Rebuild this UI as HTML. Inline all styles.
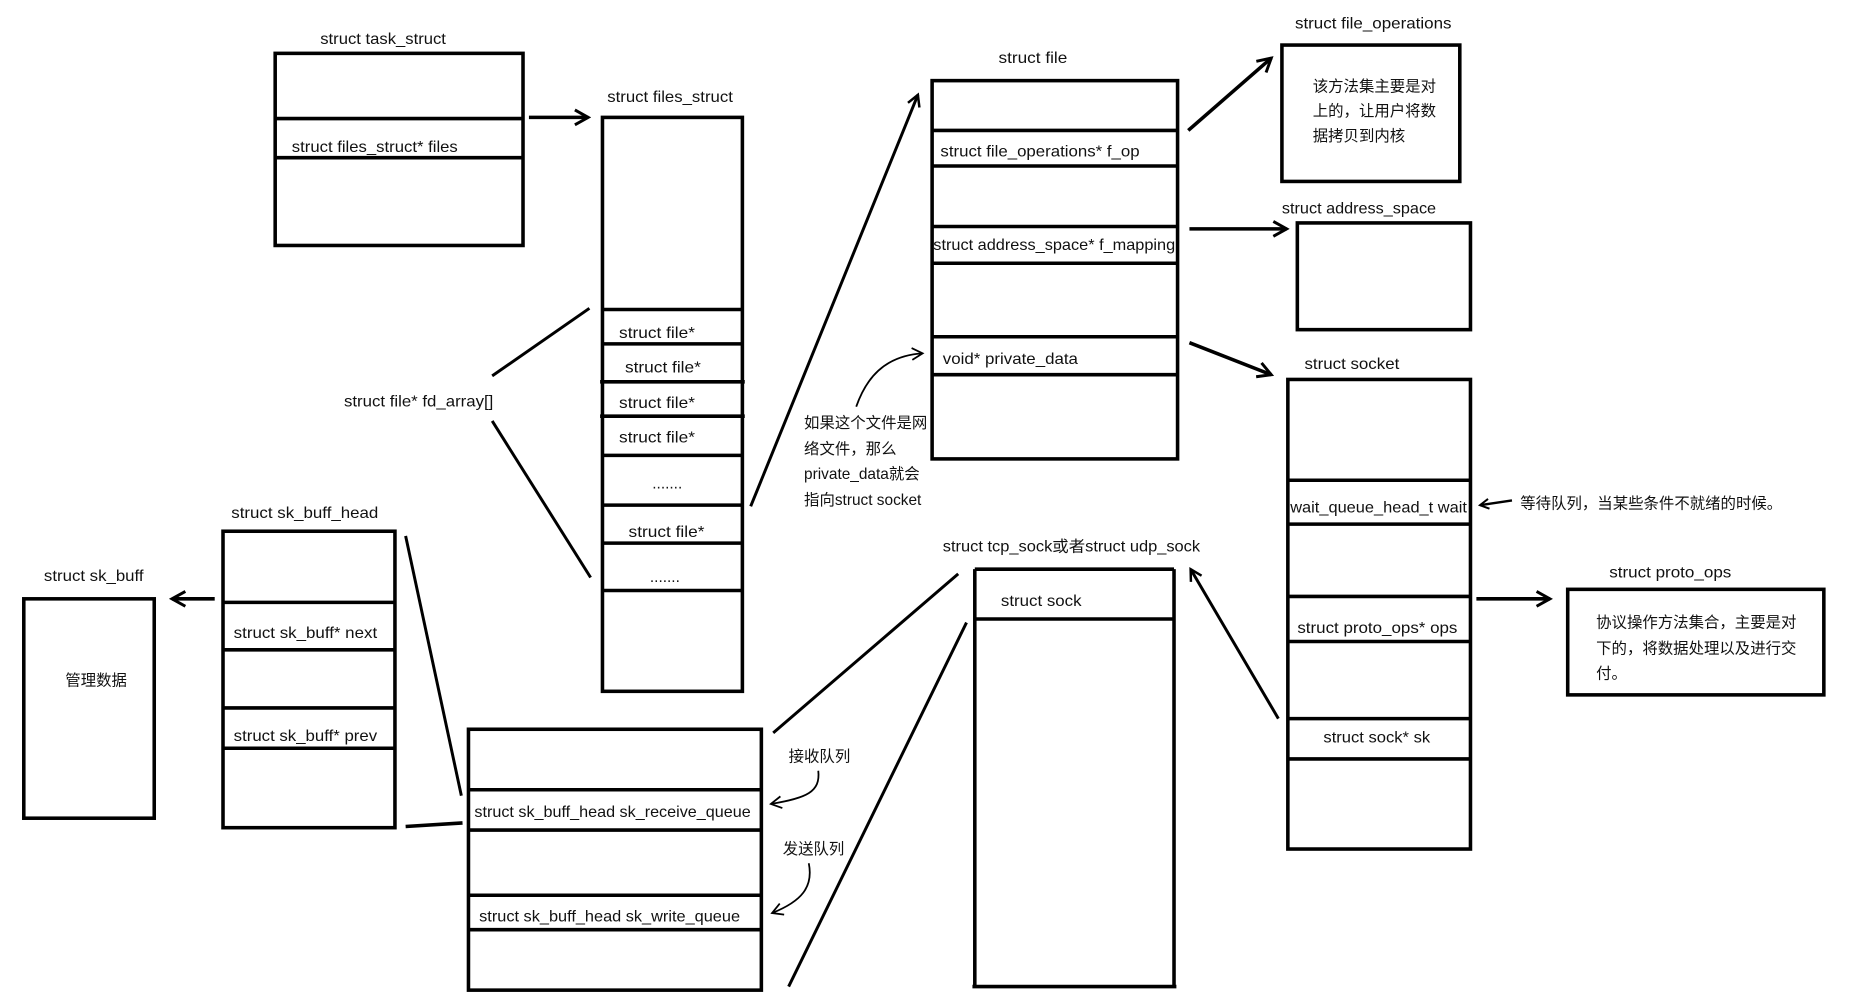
<!DOCTYPE html>
<html><head><meta charset="utf-8"><style>
html,body{margin:0;padding:0;background:#fff;}
svg{display:block;}
text{font-family:"Liberation Sans","Noto Sans CJK SC",sans-serif;font-size:13px;fill:#111;}
</style></head><body>
<svg width="1850" height="1002" viewBox="0 0 1560 845" xmlns="http://www.w3.org/2000/svg">
<defs>
<marker id="ah" viewBox="0 0 12 12" refX="10" refY="6" markerWidth="5" markerHeight="5" orient="auto" markerUnits="strokeWidth">
<path d="M1,1 L10,6 L1,11" fill="none" stroke="#000" stroke-width="2"/>
</marker>
<marker id="ahs" viewBox="0 0 12 12" refX="10" refY="6" markerWidth="8" markerHeight="8" orient="auto" markerUnits="strokeWidth">
<path d="M1,1 L10,6 L1,11" fill="none" stroke="#000" stroke-width="1.5"/>
</marker>
</defs>
<g fill="none" stroke="#000" stroke-width="3">
<!-- task_struct -->
<rect x="232" y="45" width="209" height="162"/>
<line x1="232" y1="100" x2="441" y2="100"/><line x1="232" y1="133" x2="441" y2="133"/>
<line x1="446" y1="99" x2="496" y2="99" marker-end="url(#ah)"/>
<!-- files_struct -->
<rect x="508" y="99" width="118" height="484"/>
<line x1="508" y1="261" x2="626" y2="261"/><line x1="508" y1="290" x2="626" y2="290"/>
<line x1="506" y1="322" x2="628" y2="322"/><line x1="506" y1="351" x2="628" y2="351"/>
<line x1="508" y1="384" x2="626" y2="384"/><line x1="508" y1="426" x2="626" y2="426"/>
<line x1="508" y1="458" x2="626" y2="458"/><line x1="508" y1="498" x2="626" y2="498"/>
<line x1="415" y1="317" x2="497" y2="260" stroke-width="2.5"/>
<line x1="415" y1="355" x2="498" y2="487" stroke-width="2.5"/>
<line x1="633" y1="427" x2="774" y2="80" stroke-width="2.5" marker-end="url(#ah)"/>
<!-- struct file -->
<rect x="786" y="68" width="207" height="319"/>
<line x1="786" y1="110" x2="993" y2="110"/><line x1="786" y1="140" x2="993" y2="140"/>
<line x1="786" y1="191" x2="993" y2="191"/><line x1="786" y1="222" x2="993" y2="222"/>
<line x1="786" y1="284" x2="993" y2="284"/><line x1="786" y1="316" x2="993" y2="316"/>
<path d="M722,343 C730,320 745,300 778,298" stroke-width="1.5" marker-end="url(#ahs)"/>
<line x1="1002" y1="110" x2="1072" y2="49" marker-end="url(#ah)"/>
<line x1="1003" y1="193" x2="1085" y2="193" marker-end="url(#ah)"/>
<line x1="1003" y1="289" x2="1072" y2="316" marker-end="url(#ah)"/>
<!-- file_operations -->
<rect x="1081" y="38" width="150" height="115"/>
<!-- address_space -->
<rect x="1094" y="188" width="146" height="90"/>
<!-- socket -->
<rect x="1086" y="320" width="154" height="396"/>
<line x1="1086" y1="405" x2="1240" y2="405"/><line x1="1086" y1="442" x2="1240" y2="442"/>
<line x1="1086" y1="503" x2="1240" y2="503"/><line x1="1086" y1="541" x2="1240" y2="541"/>
<line x1="1086" y1="606" x2="1240" y2="606"/><line x1="1086" y1="640" x2="1240" y2="640"/>
<line x1="1275" y1="422" x2="1248" y2="426" stroke-width="2" marker-end="url(#ah)"/>
<line x1="1245" y1="505" x2="1307" y2="505" marker-end="url(#ah)"/>
<rect x="1322" y="497" width="216" height="89"/>
<!-- tcp_sock -->
<line x1="822" y1="480" x2="990" y2="480"/>
<line x1="822" y1="480" x2="822" y2="832"/><line x1="990" y1="480" x2="990" y2="832"/>
<line x1="820" y1="832" x2="992" y2="832"/>
<line x1="822" y1="522" x2="990" y2="522"/>
<line x1="1078" y1="606" x2="1004" y2="480" stroke-width="2.5" marker-end="url(#ah)"/>
<line x1="808" y1="484" x2="652" y2="618" stroke-width="2.5"/>
<line x1="815" y1="525" x2="665" y2="832" stroke-width="2.5"/>
<!-- sk_buff_head -->
<rect x="188" y="448" width="145" height="250"/>
<line x1="188" y1="508" x2="333" y2="508"/><line x1="188" y1="548" x2="333" y2="548"/>
<line x1="188" y1="597" x2="333" y2="597"/><line x1="188" y1="631" x2="333" y2="631"/>
<line x1="181" y1="505" x2="145" y2="505" marker-end="url(#ah)"/>
<rect x="20" y="505" width="110" height="185"/>
<line x1="342" y1="452" x2="389" y2="671" stroke-width="2.5"/>
<line x1="342" y1="697" x2="390" y2="694"/>
<!-- big queue box -->
<rect x="395" y="615" width="247" height="220"/>
<line x1="395" y1="666" x2="642" y2="666"/><line x1="395" y1="700" x2="642" y2="700"/>
<line x1="395" y1="755" x2="642" y2="755"/><line x1="395" y1="784" x2="642" y2="784"/>
<path d="M690,650 C692,668 680,673 650,678" stroke-width="1.5" marker-end="url(#ahs)"/>
<path d="M682,728 C686,748 676,760 651,770" stroke-width="1.5" marker-end="url(#ahs)"/>
</g>
<!-- labels -->
<text x="270" y="37" textLength="106" lengthAdjust="spacingAndGlyphs">struct task_struct</text>
<text x="246" y="128" textLength="140" lengthAdjust="spacingAndGlyphs">struct files_struct* files</text>
<text x="512" y="86" textLength="106" lengthAdjust="spacingAndGlyphs">struct files_struct</text>
<text x="522" y="285" textLength="64" lengthAdjust="spacingAndGlyphs">struct file*</text>
<text x="527" y="314" textLength="64" lengthAdjust="spacingAndGlyphs">struct file*</text>
<text x="522" y="344" textLength="64" lengthAdjust="spacingAndGlyphs">struct file*</text>
<text x="522" y="373" textLength="64" lengthAdjust="spacingAndGlyphs">struct file*</text>
<text x="550" y="412" font-size="9">.......</text>
<text x="530" y="453" textLength="64" lengthAdjust="spacingAndGlyphs">struct file*</text>
<text x="548" y="491" font-size="9">.......</text>
<text x="290" y="343" textLength="126" lengthAdjust="spacingAndGlyphs">struct file* fd_array[]</text>
<text x="842" y="53" textLength="58" lengthAdjust="spacingAndGlyphs">struct file</text>
<text x="793" y="132" textLength="168" lengthAdjust="spacingAndGlyphs">struct file_operations* f_op</text>
<text x="787" y="211" textLength="204" lengthAdjust="spacingAndGlyphs">struct address_space* f_mapping</text>
<text x="795" y="307" textLength="114" lengthAdjust="spacingAndGlyphs">void* private_data</text>
<text x="678" y="361">如果这个文件是网</text>
<text x="678" y="383">络文件，那么</text>
<text x="678" y="404">private_data就会</text>
<text x="678" y="426">指向struct socket</text>
<text x="1092" y="24" textLength="132" lengthAdjust="spacingAndGlyphs">struct file_operations</text>
<text x="1107" y="77">该方法集主要是对</text>
<text x="1107" y="98">上的，让用户将数</text>
<text x="1107" y="119">据拷贝到内核</text>
<text x="1081" y="180" textLength="130" lengthAdjust="spacingAndGlyphs">struct address_space</text>
<text x="1100" y="311" textLength="80" lengthAdjust="spacingAndGlyphs">struct socket</text>
<text x="1088" y="432" textLength="149" lengthAdjust="spacingAndGlyphs">wait_queue_head_t wait</text>
<text x="1282" y="429">等待队列，当某些条件不就绪的时候。</text>
<text x="1094" y="534" textLength="135" lengthAdjust="spacingAndGlyphs">struct proto_ops* ops</text>
<text x="1116" y="626" textLength="90" lengthAdjust="spacingAndGlyphs">struct sock* sk</text>
<text x="1357" y="487" textLength="103" lengthAdjust="spacingAndGlyphs">struct proto_ops</text>
<text x="1346" y="529">协议操作方法集合，主要是对</text>
<text x="1346" y="551">下的，将数据处理以及进行交</text>
<text x="1346" y="572">付。</text>
<text x="795" y="465" textLength="217" lengthAdjust="spacingAndGlyphs">struct tcp_sock或者struct udp_sock</text>
<text x="844" y="511" textLength="68" lengthAdjust="spacingAndGlyphs">struct sock</text>
<text x="195" y="437" textLength="124" lengthAdjust="spacingAndGlyphs">struct  sk_buff_head</text>
<text x="197" y="538" textLength="121" lengthAdjust="spacingAndGlyphs">struct sk_buff* next</text>
<text x="197" y="625" textLength="121" lengthAdjust="spacingAndGlyphs">struct sk_buff* prev</text>
<text x="37" y="490" textLength="84" lengthAdjust="spacingAndGlyphs">struct sk_buff</text>
<text x="55" y="578">管理数据</text>
<text x="400" y="689" textLength="233" lengthAdjust="spacingAndGlyphs">struct sk_buff_head sk_receive_queue</text>
<text x="404" y="777" textLength="220" lengthAdjust="spacingAndGlyphs">struct sk_buff_head sk_write_queue</text>
<text x="665" y="642">接收队列</text>
<text x="660" y="720">发送队列</text>
</svg>
</body></html>
